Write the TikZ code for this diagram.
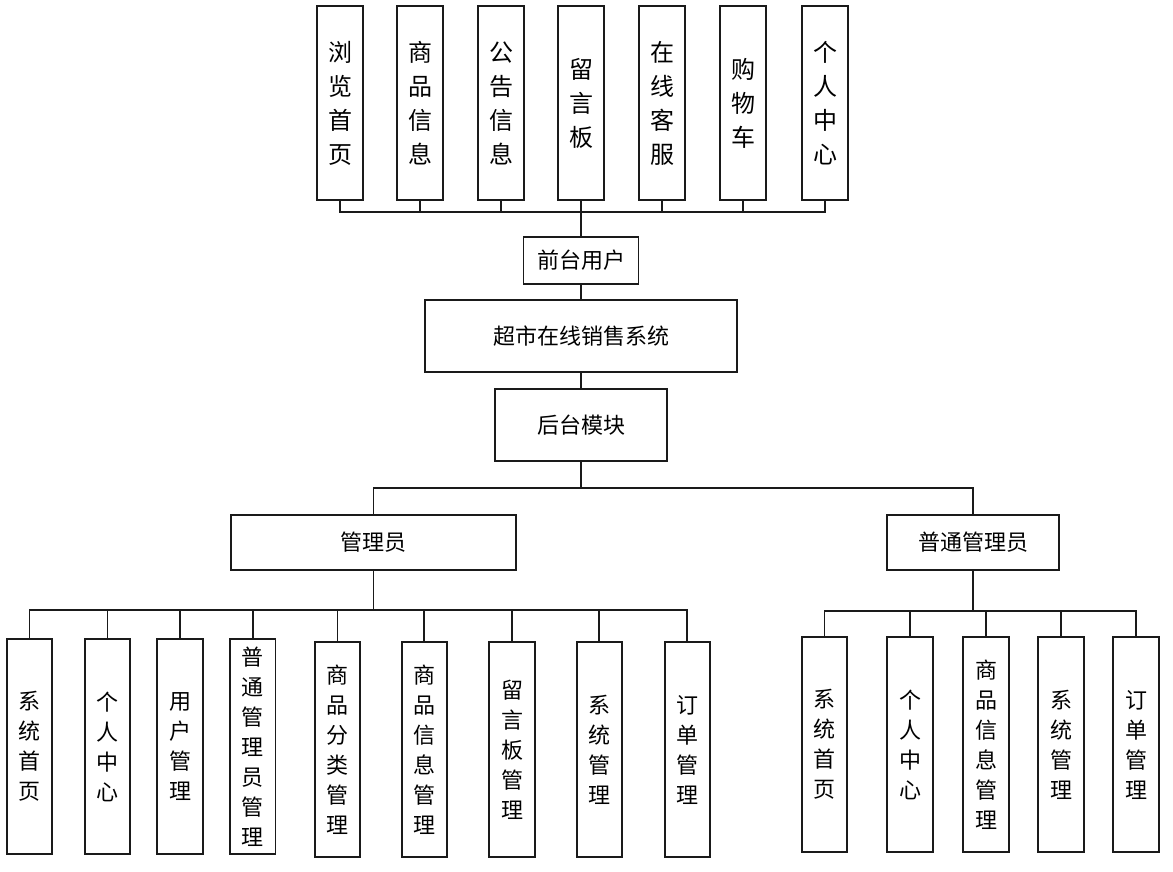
\documentclass[tikz,border=0pt]{standalone}
\usepackage{fontspec}
\setmainfont{Noto Sans CJK SC}
\usetikzlibrary{positioning}
\definecolor{ink}{HTML}{1A1A1A}

\begin{document}
\begin{tikzpicture}[x=0.75pt,y=-0.75pt,line width=1.3pt,draw=ink,
  box/.style={draw=ink,fill=white,inner sep=0pt,align=center},
  topbox/.style={box,minimum width=34.5pt,minimum height=145.5pt,font=\fontsize{18}{25.5}\selectfont},
  lowbox/.style={box,minimum width=34pt,minimum height=161.25pt,font=\fontsize{16.5}{22.5}\selectfont},
  widebox/.style={box,font=\fontsize{16.5}{20}\selectfont}]
\useasboundingbox (0,0) rectangle (1173,871);
% front end
\foreach \i/\x/\t in {1/340/{浏\\览\\首\\页},2/420/{商\\品\\信\\息},3/501/{公\\告\\信\\息},
  4/581/{留\\言\\板},5/662/{在\\线\\客\\服},6/743/{购\\物\\车},7/825/{个\\人\\中\\心}}{
\node[topbox] (t\i) at (\x,103) {\t};}
\node[widebox,minimum width=86.25pt,minimum height=35.25pt] (qt) at (581,260.5) {前台用户};
\foreach \i in {1,...,7}{
\draw (qt.north) -- ++(0,-24) -| (t\i.south);}
% system
\node[widebox,minimum width=234pt,minimum height=54pt] (cs) at (581,336) {超市在线销售系统};
\node[widebox,minimum width=129pt,minimum height=54pt] (ht) at (581,425) {后台模块};
\draw (qt.south) -- (cs.north);
\draw (cs.south) -- (ht.north);
% back end
\node[widebox,minimum width=213.75pt,minimum height=41.25pt] (gl) at (373.5,542.5) {管理员};
\node[widebox,minimum width=129pt,minimum height=41.25pt] (pt) at (973,542.5) {普通管理员};
\draw (ht.south) -- ++(0,26) -| (gl.north);
\draw (ht.south) -- ++(0,26) -| (pt.north);
\foreach \i/\x/\y/\t in {1/29.6/746.5/{系\\统\\首\\页},2/107.5/746.5/{个\\人\\中\\心},
  3/180/746.5/{用\\户\\管\\理},4/252.8/746.5/{普\\通\\管\\理\\员\\管\\理},
  5/337.6/749.5/{商\\品\\分\\类\\管\\理},6/424.3/749.5/{商\\品\\信\\息\\管\\理},
  7/512/749.5/{留\\言\\板\\管\\理},8/599.3/749.5/{系\\统\\管\\理},9/687.3/749.5/{订\\单\\管\\理}}{
\node[lowbox] (a\i) at (\x,\y) {\t};}
\foreach \i in {1,...,9}{
\draw (gl.south) -- ++(0,39) -| (a\i.north);}
\foreach \i/\x/\t in {1/824.5/{系\\统\\首\\页},2/910/{个\\人\\中\\心},3/986/{商\\品\\信\\息\\管\\理},
  4/1061/{系\\统\\管\\理},5/1136/{订\\单\\管\\理}}{
\node[lowbox] (b\i) at (\x,744.5) {\t};}
\foreach \i in {1,...,5}{
\draw (pt.south) -- ++(0,40) -| (b\i.north);}
\end{tikzpicture}
\end{document}
